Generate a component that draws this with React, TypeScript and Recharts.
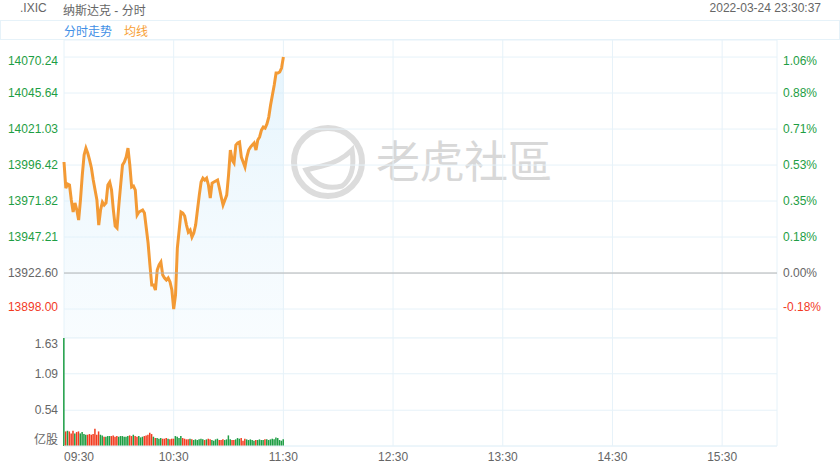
import { ComposedChart, Area, Line, Bar, Cell, XAxis, YAxis, CartesianGrid, ReferenceLine } from 'recharts';

// previous close of .IXIC, base for percent axis
const PREV_CLOSE = 13922.6;

// one point per minute from 09:30 to 11:30
const PRICES = [
  13998.5, 13980.7, 13983.4, 13982.8, 13972.5, 13964.3, 13970.5, 13965.7, 13958.8, 13972.5,
  13989.6, 14003.3, 14008.0, 14004.6, 13999.8, 13994.4, 13986.2, 13979.3, 13972.5, 13955.4,
  13965.7, 13971.1, 13969.1, 13970.5, 13982.8, 13984.8, 13979.3, 13965.7, 13954.7, 13953.4,
  13969.1, 13982.8, 13996.4, 13998.5, 14001.9, 14008.0, 13996.4, 13981.4, 13982.1, 13979.3,
  13962.3, 13964.3, 13965.0, 13965.7, 13963.6, 13953.4, 13943.1, 13928.1, 13914.4, 13914.4,
  13911.0, 13924.7, 13928.1, 13930.1, 13921.2, 13919.2, 13917.8, 13919.2, 13916.5, 13911.0,
  13898.0, 13907.6, 13939.7, 13952.0, 13964.3, 13963.6, 13961.6, 13955.4, 13950.6, 13952.0,
  13947.2, 13949.9, 13955.4, 13965.7, 13975.9, 13984.8, 13987.5, 13986.2, 13987.5, 13982.8,
  13973.9, 13984.1, 13984.8, 13985.5, 13986.2, 13980.7, 13974.6, 13969.1, 13972.5, 13975.9,
  13989.6, 14006.7, 13999.8, 13997.8, 14010.1, 14011.5, 14012.1, 14001.9, 13998.5, 13995.1,
  14001.9, 14006.7, 14008.7, 14010.1, 14011.5, 14006.7, 14013.5, 14015.6, 14020.3, 14022.4,
  14021.7, 14024.5, 14029.2, 14037.4, 14044.3, 14051.1, 14059.3, 14059.3, 14060.0, 14062.7,
  14070.24,
];

// volume, 亿股
const VOLUMES = [
  1.63, 0.22, 0.23, 0.22, 0.19, 0.23, 0.19, 0.21, 0.22, 0.19,
  0.21, 0.18, 0.17, 0.17, 0.18, 0.17, 0.18, 0.26, 0.17, 0.22,
  0.17, 0.16, 0.14, 0.14, 0.15, 0.15, 0.15, 0.16, 0.14, 0.15,
  0.14, 0.15, 0.15, 0.14, 0.14, 0.15, 0.16, 0.15, 0.17, 0.15,
  0.14, 0.15, 0.13, 0.14, 0.15, 0.16, 0.17, 0.2, 0.18, 0.14,
  0.12, 0.12, 0.11, 0.12, 0.11, 0.11, 0.12, 0.11, 0.1, 0.11,
  0.11, 0.15, 0.14, 0.12, 0.15, 0.12, 0.11, 0.1, 0.1, 0.11,
  0.1, 0.09, 0.1, 0.09, 0.1, 0.11, 0.1, 0.09, 0.1, 0.11,
  0.1, 0.09, 0.08, 0.1, 0.11, 0.09, 0.09, 0.1, 0.09, 0.1,
  0.16, 0.1, 0.09, 0.09, 0.1, 0.12, 0.11, 0.12, 0.08, 0.11,
  0.1, 0.09, 0.1, 0.09, 0.08, 0.09, 0.09, 0.1, 0.09, 0.09,
  0.1, 0.1, 0.09, 0.1, 0.11, 0.1, 0.13, 0.12, 0.09, 0.08,
  0.1,
];

const PRICE_TICKS = [13898.0, 13922.6, 13947.21, 13971.82, 13996.42, 14021.03, 14045.64, 14070.24];
const VOLUME_TICKS = [0, 0.54, 1.09, 1.63];
const TIME_TICKS = [0, 60, 120, 180, 240, 300, 360, 390];
const TIME_LABELS = ['09:30', '10:30', '11:30', '12:30', '13:30', '14:30', '15:30', ''];

const GREEN = '#1e9e44';
const RED = '#f23b1f';
const GRID = '#e6f2f9';
const FONT = '"Liberation Sans", Arial, "Noto Sans CJK SC", sans-serif';

const data = PRICES.map((price, i) => ({
  t: i,
  price,
  vol: VOLUMES[i],
  up: price >= (i === 0 ? PREV_CLOSE : PRICES[i - 1]),
}));

const priceColor = (v: number) =>
  Math.abs(v - PREV_CLOSE) < 0.01 ? '#666' : v > PREV_CLOSE ? GREEN : RED;

function PriceTick(props: any) {
  const { x, y, payload, side } = props;
  const v = payload.value;
  const shift = v === PRICE_TICKS[PRICE_TICKS.length - 1] ? 4 : v === PRICE_TICKS[0] ? -2 : 0;
  const label = side === 'left'
    ? v.toFixed(2)
    : (((v - PREV_CLOSE) / PREV_CLOSE) * 100).toFixed(2) + '%';
  return (
    <text x={x} y={y + shift} dy="0.355em" textAnchor={side === 'left' ? 'end' : 'start'}
      fill={priceColor(v)} fontSize={12} fontFamily={FONT}>
      {label}
    </text>
  );
}

function VolumeTick(props: any) {
  const { x, y, payload } = props;
  const v = payload.value;
  const shift = v === 0 ? -6 : v === VOLUME_TICKS[VOLUME_TICKS.length - 1] ? 5 : 0;
  return (
    <text x={x} y={y + shift} dy="0.355em" textAnchor="end" fill="#666" fontSize={12} fontFamily={FONT}>
      {v === 0 ? '亿股' : v.toFixed(2)}
    </text>
  );
}

function TimeTick(props: any) {
  const { x, y, payload, index } = props;
  const label = TIME_LABELS[index];
  if (!label) return null;
  return (
    <text x={x} y={y} dy="0.71em" textAnchor={payload.value === 0 ? 'start' : 'middle'}
      fill="#666" fontSize={12} fontFamily={FONT}>
      {label}
    </text>
  );
}

export default function App() {
  return (
    <div style={{ position: 'relative', width: 840, height: 470, background: '#fff', fontFamily: FONT, overflow: 'hidden' }}>
      <style>{'body{margin:0}'}</style>

      {/* header */}
      <div style={{ position: 'absolute', left: 20, top: 1, fontSize: 12, color: '#666' }}>.IXIC</div>
      <div style={{ position: 'absolute', left: 63, top: 1, fontSize: 12, color: '#666' }}>纳斯达克 - 分时</div>
      <div style={{ position: 'absolute', right: 19, top: 1, fontSize: 12, color: '#666' }}>2022-03-24 23:30:37</div>
      <div style={{ position: 'absolute', left: 0, top: 20, width: 838, height: 18, border: `1px solid ${GRID}` }} />
      <div style={{ position: 'absolute', left: 64, top: 22, fontSize: 12, color: '#3f8fe6' }}>分时走势</div>
      <div style={{ position: 'absolute', left: 124, top: 22, fontSize: 12, color: '#f7a035' }}>均线</div>

      {/* watermark */}
      <svg style={{ position: 'absolute', left: 0, top: 0 }} width={840} height={470}>
        <circle cx={328} cy={162} r={34} fill="none" stroke="#dcdcdc" strokeWidth={6} />
        <path d="M 306 170 Q 318 192 342 186 Q 356 176 352 150 Q 340 162 322 166 Z" fill="none" stroke="#dcdcdc" strokeWidth={5} />
        <text x={376} y={178} fontSize={44} fill="#d8d8d8" fontFamily='"Noto Sans CJK TC", "Noto Sans CJK SC", sans-serif'>老虎社區</text>
      </svg>

      {/* price chart */}
      <div style={{ position: 'absolute', left: 0, top: 0 }}>
        <ComposedChart width={840} height={338} data={data} margin={{ top: 40, right: 0, left: 0, bottom: 0 }}>
          <defs>
            <linearGradient id="priceFill" x1="0" y1="0" x2="0" y2="1">
              <stop offset="0%" stopColor="#cdeafb" stopOpacity={0.85} />
              <stop offset="100%" stopColor="#e6f5fd" stopOpacity={0.45} />
            </linearGradient>
          </defs>
          <CartesianGrid stroke={GRID} vertical horizontal />
          <XAxis dataKey="t" type="number" domain={[0, 390]} ticks={TIME_TICKS} hide />
          <YAxis type="number" domain={[13878.2, 14081.9]} ticks={PRICE_TICKS} width={64}
            axisLine={false} tickLine={false} tickSize={0} tickMargin={6}
            tick={(p: any) => <PriceTick {...p} side="left" />} />
          <YAxis yAxisId="right" orientation="right" type="number" domain={[13878.2, 14081.9]} ticks={PRICE_TICKS}
            width={63} axisLine={false} tickLine={false} tickSize={0} tickMargin={6}
            tick={(p: any) => <PriceTick {...p} side="right" />} />
          <ReferenceLine y={PREV_CLOSE} stroke="#b4b4b4" strokeWidth={1} />
          <Area type="linear" dataKey="price" stroke="#f39a35" strokeWidth={3} fill="url(#priceFill)"
            dot={false} activeDot={false} isAnimationActive={false} />
          <Line yAxisId="right" type="linear" dataKey="price" stroke="none" dot={false} activeDot={false}
            isAnimationActive={false} />
        </ComposedChart>
      </div>

      {/* volume chart */}
      <div style={{ position: 'absolute', left: 0, top: 330 }}>
        <ComposedChart width={840} height={140} data={data} margin={{ top: 8, right: 63, left: 0, bottom: 0 }}>
          <CartesianGrid stroke={GRID} vertical horizontal />
          <XAxis dataKey="t" type="number" domain={[0, 390]} ticks={TIME_TICKS} height={24}
            axisLine={{ stroke: GRID }} tickLine={false} tickSize={0} tickMargin={6}
            tick={(p: any) => <TimeTick {...p} />} />
          <YAxis type="number" domain={[0, 1.63]} ticks={VOLUME_TICKS} width={64}
            axisLine={false} tickLine={false} tickSize={0} tickMargin={6}
            tick={(p: any) => <VolumeTick {...p} />} />
          <Bar dataKey="vol" barSize={1.5} isAnimationActive={false}>
            {data.map((d, i) => (
              <Cell key={`v-${i}`} fill={d.up ? GREEN : RED} />
            ))}
          </Bar>
        </ComposedChart>
      </div>
    </div>
  );
}
